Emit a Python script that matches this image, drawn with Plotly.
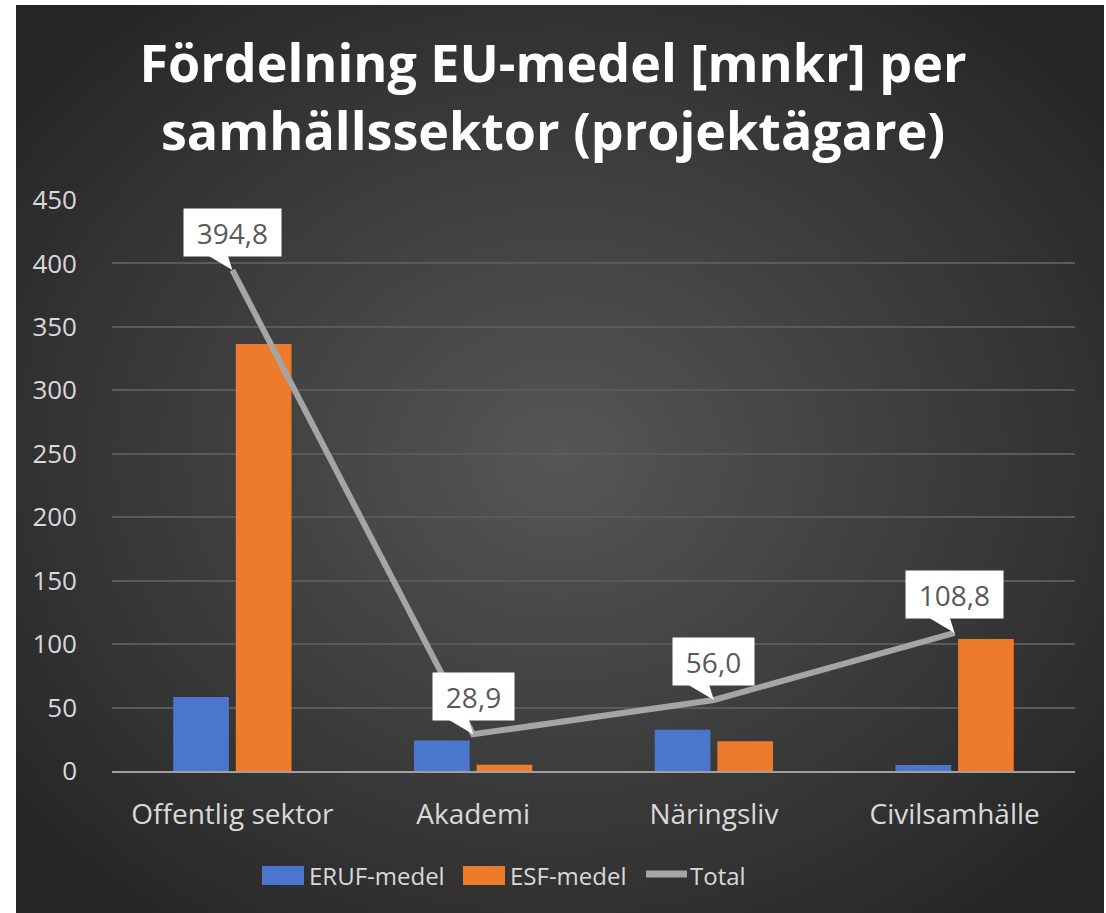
import base64
import plotly.graph_objects as go

# data (mnkr)
sectors = ["Offentlig sektor", "Akademi", "Näringsliv", "Civilsamhälle"]
eruf = [58.3, 24.0, 32.6, 4.8]
esf = [336.5, 4.9, 23.4, 104.0]
total = [394.8, 28.9, 56.0, 108.8]

W, H = 1106, 913
L, R, T, B = 112, 31, 200, 142
plot_w = W - L - R
plot_h = H - T - B

BLUE = "#4a77cd"
ORANGE = "#ee7a2b"
GRAY = "#a5a5a5"


def px_x(p):
    return (p - L) / plot_w


def px_y(p):
    return 1 - (p - T) / plot_h


# dark radial background, drawn as svg image behind the plot
svg = (
    '<svg xmlns="http://www.w3.org/2000/svg" width="1088" height="908" '
    'viewBox="0 0 1088 908" preserveAspectRatio="none">'
    '<defs><radialGradient id="g" cx="50%" cy="50%" r="65%">'
    '<stop offset="0" stop-color="#565656"/>'
    '<stop offset="1" stop-color="#252525"/>'
    '</radialGradient></defs>'
    '<rect width="1088" height="908" fill="url(#g)"/></svg>'
)
bg_src = "data:image/svg+xml;base64," + base64.b64encode(svg.encode()).decode()

fig = go.Figure()
fig.add_trace(go.Bar(name="ERUF-medel", x=sectors, y=eruf,
                     marker=dict(color=BLUE, line_width=0)))
fig.add_trace(go.Bar(name="ESF-medel", x=sectors, y=esf,
                     marker=dict(color=ORANGE, line_width=0)))
fig.add_trace(go.Scatter(name="Total", x=sectors, y=total, mode="lines",
                         line=dict(color=GRAY, width=6)))

# callout labels for the total line
for s, v in zip(sectors, total):
    txt = f"{v:.1f}".replace(".", ",")
    fig.add_annotation(x=s, y=v, text=txt, showarrow=False, yshift=38,
                       bgcolor="white", borderpad=0, width=16 * len(txt) + 17,
                       height=47, font=dict(size=28, color="#595959"))
    fig.add_shape(type="path", xref="x", yref="y", xsizemode="pixel",
                  ysizemode="pixel", xanchor=s, yanchor=v,
                  path="M -27,16 L -5,16 L 0,0 Z", fillcolor="white",
                  line=dict(width=0), layer="above")

# legend drawn by hand so the swatches are wide like the original
legend_items = [("ERUF-medel", BLUE, 262, "bar"),
                ("ESF-medel", ORANGE, 463, "bar"),
                ("Total", GRAY, 643, "line")]
for name, col, x0, kind in legend_items:
    if kind == "bar":
        fig.add_shape(type="rect", xref="paper", yref="paper",
                      x0=px_x(x0), x1=px_x(x0 + 42), y0=px_y(866), y1=px_y(885),
                      fillcolor=col, line=dict(width=0))
    else:
        fig.add_shape(type="line", xref="paper", yref="paper",
                      x0=px_x(x0 + 3), x1=px_x(x0 + 44), y0=px_y(874), y1=px_y(874),
                      line=dict(color=col, width=7))
    fig.add_annotation(xref="paper", yref="paper", x=px_x(x0 + 45), y=px_y(875),
                       xanchor="left", yanchor="middle", showarrow=False,
                       text=name, font=dict(size=24, color="#d9d9d9"))

fig.add_layout_image(dict(
    source=bg_src, xref="paper", yref="paper",
    x=px_x(16), y=px_y(5), sizex=1088 / plot_w, sizey=908 / plot_h,
    xanchor="left", yanchor="top", sizing="stretch", layer="below"))

fig.update_layout(
    width=W, height=H,
    margin=dict(l=L, r=R, t=T, b=B),
    paper_bgcolor="white",
    plot_bgcolor="rgba(0,0,0,0)",
    font=dict(family="Open Sans, sans-serif", color="#d9d9d9"),
    title=dict(text="Fördelning EU-medel [mnkr] per<br>samhällssektor (projektägare)",
               x=0.5, xref="container", xanchor="center",
               y=1 - 82 / H, yref="container", yanchor="middle",
               font=dict(size=52, color="white", family="Open Sans, sans-serif",
                         weight="bold")),
    barmode="group", bargap=0.48, bargroupgap=0.11,
    showlegend=False,
    xaxis=dict(showgrid=False, showline=True, linecolor="#a0a0a0", linewidth=2,
               ticks="", tickfont=dict(size=28, color="#d9d9d9"),
               ticklabelstandoff=17),
    yaxis=dict(range=[0, 450], dtick=50, showgrid=True, gridcolor="#5a5a5a",
               gridwidth=1.5, zeroline=False, ticks="",
               tickfont=dict(size=26, color="#d9d9d9"), ticklabelstandoff=34),
)

# the page body has an 8px default margin, drop it so the figure sits at 0,0
fig.write_html("out.html", config={"displayModeBar": False},
               post_script="document.body.style.margin='0';")
